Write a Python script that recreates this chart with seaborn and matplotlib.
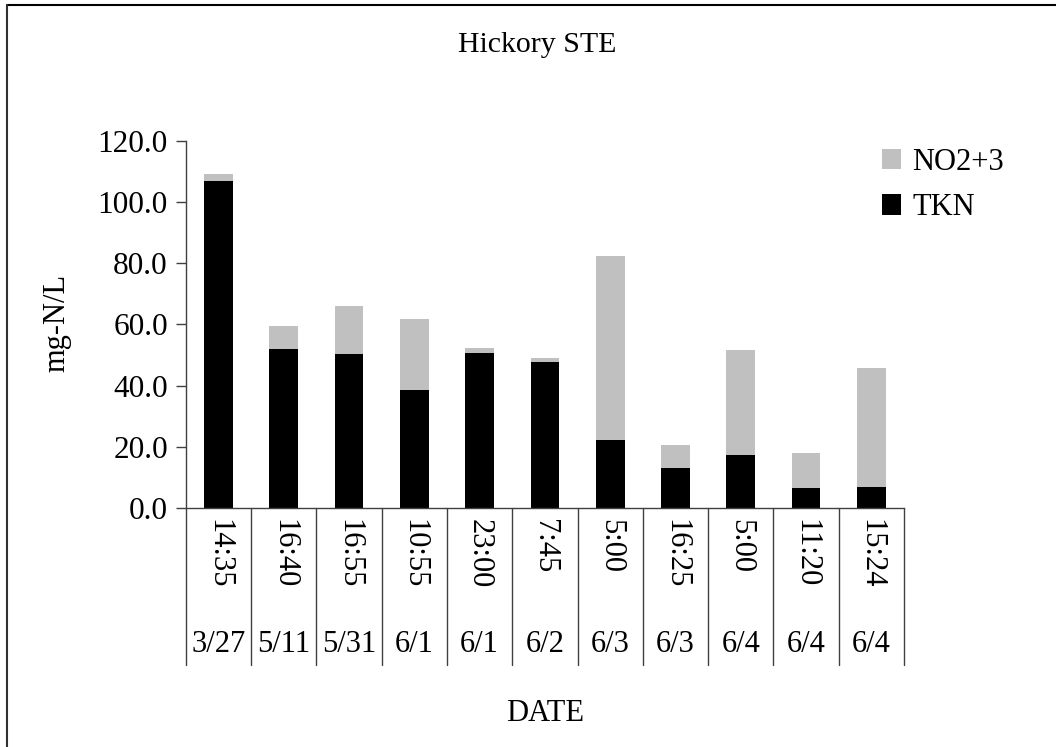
import pandas as pd
import matplotlib.pyplot as plt
import seaborn as sns
from matplotlib.lines import Line2D
import matplotlib.transforms as mtransforms

# datos
horas = ["14:35", "16:40", "16:55", "10:55", "23:00", "7:45", "5:00", "16:25", "5:00", "11:20", "15:24"]
fechas = ["3/27", "5/11", "5/31", "6/1", "6/1", "6/2", "6/3", "6/3", "6/4", "6/4", "6/4"]
tkn = [106.7, 52.0, 50.3, 38.5, 50.7, 47.7, 22.1, 12.9, 17.4, 6.4, 7.0]
no23 = [2.5, 7.3, 15.6, 23.4, 1.5, 1.2, 60.2, 7.8, 34.2, 11.7, 38.6]

df = pd.DataFrame({"hora": horas, "fecha": fechas, "TKN": tkn, "NO2+3": no23})
df["cat"] = [str(i) for i in range(len(df))]
df["total"] = df["TKN"] + df["NO2+3"]

sns.set_style("white")
plt.rcParams["font.family"] = ["Liberation Serif", "DejaVu Serif"]
plt.rcParams["text.color"] = "black"
plt.rcParams["axes.labelcolor"] = "black"
plt.rcParams["xtick.color"] = "black"
plt.rcParams["ytick.color"] = "black"

fig = plt.figure(figsize=(10.56, 7.47), dpi=100)
ax = fig.add_axes([0.176, 0.320, 0.680, 0.4916])

sns.barplot(data=df, x="cat", y="total", color="#C0C0C0", saturation=1,
            width=0.44, label="NO2+3", ax=ax, linewidth=0)
sns.barplot(data=df, x="cat", y="TKN", color="black", saturation=1,
            width=0.44, label="TKN", ax=ax, linewidth=0)

n = len(df)
ax.set_xlim(-0.5, n - 0.5)
ax.set_ylim(0, 120)
ax.set_yticks(range(0, 121, 20))
ax.set_yticklabels([f"{v:.1f}" for v in range(0, 121, 20)], fontsize=22.5)
ax.tick_params(axis="y", direction="out", length=7, width=1, color="#404040", pad=6, left=True)
ax.set_xticks(range(n))
ax.set_xticklabels(horas, rotation=270, fontsize=22, va="top", ha="center")
ax.tick_params(axis="x", length=0, pad=8)

for s in ["top", "right"]:
    ax.spines[s].set_visible(False)
for s in ["left", "bottom"]:
    ax.spines[s].set_color("#404040")
    ax.spines[s].set_linewidth(1)

# separadores de categorias y fechas
trans = mtransforms.blended_transform_factory(ax.transData, ax.transAxes)
for b in range(n + 1):
    ax.plot([b - 0.5, b - 0.5], [0, -0.4275], transform=trans, color="#404040",
            lw=1, clip_on=False)
for i, f in enumerate(fechas):
    ax.text(i, -0.373, f, transform=trans, ha="center", va="center", fontsize=22)

ax.set_ylabel("mg-N/L", fontsize=22)
ax.yaxis.set_label_coords(-0.18, 0.504)
ax.yaxis.label.set_va("center")
ax.set_xlabel("DATE", fontsize=22)
ax.xaxis.set_label_coords(0.5, -0.52)

fig.text(537 / 1056, 1 - 45 / 747, "Hickory STE", ha="center", va="center", fontsize=21.5)

ax.legend(loc="upper left", bbox_to_anchor=(854 / 1056, 1 - 120 / 747),
          bbox_transform=fig.transFigure, frameon=False, fontsize=22,
          handlelength=0.65, handleheight=0.65, handletextpad=0.35, labelspacing=0.55)

# borde
fig.add_artist(Line2D([7 / 1056, 1], [1 - 5 / 747, 1 - 5 / 747], color="black", lw=1.5))
fig.add_artist(Line2D([7 / 1056, 7 / 1056], [0, 1 - 5 / 747], color="#303030", lw=1.5))

plt.savefig("out.png", dpi=100)
